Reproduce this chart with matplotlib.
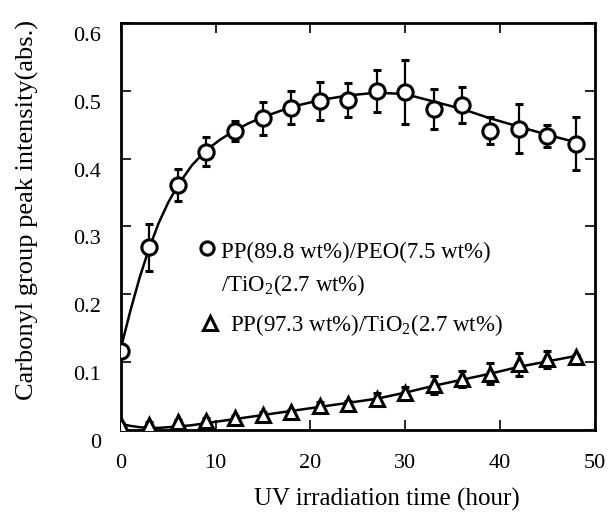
#!/usr/bin/env python3

import matplotlib

matplotlib.use("Agg")
import matplotlib.transforms as mtransforms
from matplotlib import pyplot as plt

# irradiation times (hour)
hours = [0, 3, 6, 9, 12, 15, 18, 21, 24, 27, 30, 33, 36, 39, 42, 45, 48]

# PP/PEO/TiO2 sample (circles)
peo_mean = [0.117, 0.269, 0.361, 0.410, 0.441, 0.459, 0.475, 0.485, 0.486,
            0.499, 0.498, 0.473, 0.479, 0.441, 0.444, 0.433, 0.422]
peo_err = [0.010, 0.035, 0.024, 0.021, 0.015, 0.025, 0.024, 0.028, 0.025,
           0.031, 0.047, 0.030, 0.027, 0.020, 0.036, 0.016, 0.039]

# PP/TiO2 sample (triangles)
tio_mean = [0.007, 0.008, 0.011, 0.013, 0.017, 0.022, 0.026, 0.036, 0.038,
            0.046, 0.054, 0.066, 0.075, 0.083, 0.097, 0.104, 0.108]
tio_err = [0.003, 0.004, 0.004, 0.004, 0.004, 0.004, 0.004, 0.005, 0.005,
           0.008, 0.010, 0.013, 0.012, 0.015, 0.017, 0.013, 0.003]

# fitted curves
fit_x = [0, 1, 2, 3, 4, 5, 6, 7.5, 9, 10.5, 12, 13.5, 15, 18, 21, 24, 27,
         30, 33, 36, 39, 42, 45, 48]
fit_peo = [0.120, 0.175, 0.225, 0.268, 0.305, 0.335, 0.360, 0.390, 0.412,
           0.428, 0.441, 0.452, 0.461, 0.476, 0.486, 0.493, 0.497, 0.495,
           0.484, 0.473, 0.459, 0.447, 0.435, 0.424]
fit_tio = [0.009, 0.006, 0.004, 0.003, 0.003, 0.004, 0.005, 0.007, 0.010,
           0.013, 0.016, 0.019, 0.022, 0.028, 0.034, 0.040, 0.046, 0.055,
           0.065, 0.074, 0.083, 0.093, 0.101, 0.109]

plt.rcParams["font.family"] = ["Liberation Serif", "DejaVu Serif"]
plt.rcParams["mathtext.fontset"] = "custom"
plt.rcParams["mathtext.rm"] = "Liberation Serif"

fig = plt.figure(figsize=(6.10, 5.18), dpi=100)
ax = fig.add_axes([0.198, 0.170, 0.777, 0.786])

ax.plot(fit_x, fit_peo, color="black", lw=1.8, zorder=2)
ax.plot(fit_x, fit_tio, color="black", lw=1.8, zorder=2)

ax.errorbar(hours, peo_mean, yerr=peo_err, fmt="o", ms=11, mfc="white",
            mec="black", mew=2.2, ecolor="black", elinewidth=1.6, capsize=3,
            capthick=1.6, zorder=3)
ax.errorbar(hours, tio_mean, yerr=tio_err, fmt="^", ms=10, mfc="white",
            mec="black", mew=2.2, ecolor="black", elinewidth=1.6, capsize=3,
            capthick=1.6, zorder=3)

ax.set_xlim(0, 49.8)
ax.set_ylim(0, 0.6)
ax.set_xticks([0, 10, 20, 30, 40, 50])
ax.set_yticks([0, 0.1, 0.2, 0.3, 0.4, 0.5, 0.6])
ax.set_yticklabels(["0", "0.1", "0.2", "0.3", "0.4", "0.5", "0.6"])
ax.tick_params(direction="in", top=True, right=True, length=7, width=1.2,
               labelsize=16)
ax.tick_params(axis="x", pad=17)
ax.tick_params(axis="y", pad=14)
for sp in ax.spines.values():
    sp.set_linewidth(2.0)

# y tick labels sit a little below their ticks in the original
shift = mtransforms.ScaledTranslation(0, -8 / 72, fig.dpi_scale_trans)
for lab in ax.get_yticklabels():
    lab.set_transform(lab.get_transform() + shift)

ax.set_xlabel("UV irradiation time (hour)", fontsize=18)
ax.xaxis.set_label_coords(0.562, -0.142)
ax.set_ylabel("Carbonyl group peak intensity(abs.)", fontsize=19)
ax.yaxis.set_label_coords(-0.172, 0.539)

# hand-placed legend
ax.plot([0.182], [0.447], "o", ms=9.5, mfc="white", mec="black", mew=2.2,
        transform=ax.transAxes, clip_on=False)
ax.text(0.212, 0.423, "PP(89.8 wt%)/PEO(7.5 wt%)", fontsize=16.5,
        transform=ax.transAxes, va="baseline", ha="left")
ax.text(0.212, 0.340, "/TiO$_\\mathrm{2}$(2.7 wt%)", fontsize=16.5,
        transform=ax.transAxes, va="baseline", ha="left")
ax.plot([0.188], [0.263], "^", ms=9.5, mfc="white", mec="black", mew=2.2,
        transform=ax.transAxes, clip_on=False)
ax.text(0.230, 0.243, "PP(97.3 wt%)/TiO$_\\mathrm{2}$(2.7 wt%)", fontsize=16.5,
        transform=ax.transAxes, va="baseline", ha="left")

fig.savefig("out.png", dpi=100)
